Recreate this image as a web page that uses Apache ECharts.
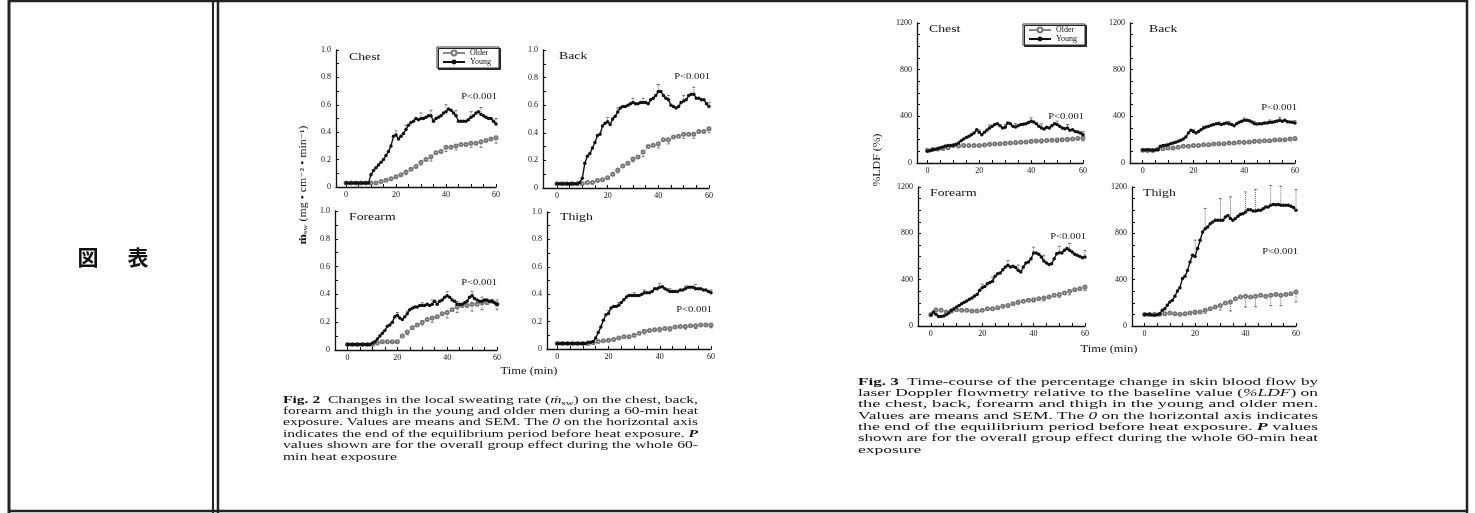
<!DOCTYPE html>
<html>
<head>
<meta charset="utf-8">
<title>Local sweating rate and skin blood flow</title>
<script src="https://cdn.jsdelivr.net/npm/echarts@6.0.0/dist/echarts.min.js"></script>
<style>
  html, body { margin: 0; padding: 0; background: #fff; }
  #chart { width: 1475px; height: 513px; }
</style>
</head>
<body>
<div id="chart"></div>
<script>
// time in minutes (young: every min, older: every 2 min)
const minutes = [0,1,2,3,4,5,6,7,8,9,10,11,12,13,14,15,16,17,18,19,20,21,22,23,24,25,26,27,28,29,30,
  31,32,33,34,35,36,37,38,39,40,41,42,43,44,45,46,47,48,49,50,51,52,53,54,55,56,57,58,59,60];
const minutesEven = [0,2,4,6,8,10,12,14,16,18,20,22,24,26,28,30,32,34,36,38,40,42,44,46,48,50,52,54,56,58,60];
const semTimes = [20,24,30,34,40,44,50,54,60];

// tick labels / tick marks
const timeTicks = [0,20,40,60];
const timeMinor = [0,5,10,15,20,25,30,35,40,45,50,55,60];
const sweatTicks = [0,0.2,0.4,0.6,0.8,1.0];
const sweatMinor = [0,0.1,0.2,0.3,0.4,0.5,0.6,0.7,0.8,0.9,1.0];
const ldfTicks = [0,400,800,1200];
const ldfMinor = [0,100,200,300,400,500,600,700,800,900,1000,1100,1200];

// Fig. 2 local sweating rate (mg/cm2/min)
const sweatChestYoung = [
  0.03,0.03,0.03,0.03,0.03,0.03,0.03,0.03,0.03,0.03,
  0.09,0.12,0.14,0.16,0.18,0.20,0.23,0.26,0.30,0.37,
  0.38,0.35,0.37,0.39,0.42,0.45,0.47,0.48,0.50,0.49,
  0.50,0.50,0.51,0.52,0.52,0.48,0.50,0.51,0.52,0.54,
  0.55,0.57,0.56,0.54,0.52,0.48,0.48,0.48,0.48,0.49,
  0.51,0.52,0.54,0.55,0.53,0.52,0.51,0.50,0.50,0.48,
  0.46];
const sweatChestOlder = [0.03,0.03,0.03,0.03,0.03,0.03,0.03,0.04,0.05,0.06,0.075,0.09,0.11,0.13,0.15,0.18,
  0.20,0.22,0.25,0.26,0.29,0.29,0.30,0.31,0.31,0.32,0.32,0.33,0.34,0.35,0.36];
const sweatBackYoung = [
  0.03,0.03,0.03,0.03,0.03,0.03,0.03,0.03,0.03,0.04,
  0.07,0.18,0.23,0.25,0.29,0.33,0.38,0.39,0.45,0.47,
  0.48,0.46,0.50,0.52,0.55,0.58,0.59,0.59,0.60,0.61,
  0.62,0.61,0.61,0.62,0.62,0.62,0.61,0.64,0.65,0.67,
  0.70,0.70,0.67,0.65,0.64,0.60,0.59,0.58,0.59,0.62,
  0.63,0.64,0.67,0.68,0.68,0.65,0.65,0.64,0.64,0.61,
  0.59];
const sweatBackOlder = [0.03,0.03,0.03,0.03,0.03,0.03,0.04,0.04,0.055,0.06,0.075,0.10,0.13,0.16,0.18,0.21,
  0.225,0.26,0.30,0.31,0.32,0.35,0.35,0.37,0.375,0.39,0.39,0.39,0.41,0.41,0.43];
const sweatForearmYoung = [
  0.04,0.04,0.04,0.04,0.04,0.04,0.04,0.04,0.04,0.04,
  0.05,0.06,0.08,0.10,0.12,0.14,0.17,0.18,0.20,0.24,
  0.25,0.23,0.22,0.24,0.26,0.29,0.30,0.31,0.31,0.32,
  0.32,0.32,0.33,0.32,0.33,0.35,0.33,0.35,0.36,0.38,
  0.39,0.38,0.36,0.35,0.33,0.33,0.33,0.34,0.35,0.38,
  0.39,0.37,0.36,0.35,0.35,0.36,0.36,0.35,0.35,0.34,
  0.33];
const sweatForearmOlder = [0.04,0.04,0.04,0.04,0.04,0.04,0.05,0.06,0.06,0.06,0.06,0.10,0.13,0.16,0.18,0.20,
  0.22,0.23,0.24,0.26,0.27,0.29,0.31,0.32,0.32,0.33,0.33,0.34,0.34,0.35,0.33];
const sweatThighYoung = [
  0.04,0.04,0.04,0.04,0.04,0.04,0.04,0.04,0.04,0.04,
  0.04,0.04,0.05,0.05,0.055,0.08,0.12,0.16,0.21,0.25,
  0.26,0.30,0.31,0.31,0.32,0.34,0.36,0.38,0.39,0.39,
  0.39,0.39,0.39,0.40,0.41,0.41,0.41,0.42,0.44,0.44,
  0.45,0.455,0.44,0.43,0.42,0.42,0.42,0.42,0.43,0.43,
  0.44,0.45,0.45,0.45,0.44,0.44,0.44,0.43,0.43,0.42,
  0.41];
const sweatThighOlder = [0.04,0.04,0.04,0.04,0.04,0.04,0.04,0.045,0.055,0.06,0.063,0.07,0.08,0.09,0.09,0.10,
  0.115,0.13,0.135,0.14,0.145,0.15,0.15,0.16,0.165,0.165,0.17,0.17,0.175,0.175,0.175];

const sweatChestYoungSem = [0.03,0.03,0.04,0.04,0.05,0.04,0.04,0.05,0.04];
const sweatChestOlderSem = [0.01,0.02,0.02,0.03,0.03,0.03,0.03,0.04,0.04];
const sweatBackYoungSem = [0.03,0.03,0.03,0.03,0.05,0.03,0.04,0.05,0.03];
const sweatBackOlderSem = [0.01,0.02,0.02,0.03,0.03,0.03,0.03,0.03,0.03];
const sweatForearmYoungSem = [0.02,0.02,0.02,0.03,0.03,0.02,0.03,0.03,0.03];
const sweatForearmOlderSem = [0.01,0.02,0.02,0.03,0.04,0.04,0.05,0.05,0.04];
const sweatThighYoungSem = [0.02,0.02,0.02,0.02,0.03,0.02,0.02,0.03,0.02];
const sweatThighOlderSem = [0.01,0.01,0.01,0.02,0.02,0.02,0.02,0.02,0.02];

// Fig. 3 skin blood flow (%LDF)
const ldfChestYoung = [
  100,105,114,118,123,130,137,145,151,150,
  151,160,171,190,206,218,229,243,257,286,
  263,243,263,282,300,314,329,337,320,300,
  306,343,337,314,309,320,329,332,337,347,
  357,351,337,314,300,291,306,300,320,337,
  329,314,300,294,300,280,286,271,266,257,
  243];
const ldfChestOlder = [110,115,120,125,130,149,145,150,151,150,151,155,160,162,166,170,
  171,175,177,180,186,188,191,193,194,197,200,203,206,210,214];
const ldfBackYoung = [
  112,112,114,111,109,112,114,143,149,152,
  157,164,171,178,186,196,206,223,257,280,
  271,257,271,286,300,309,314,323,329,337,
  337,329,337,343,337,329,320,337,349,357,
  366,366,363,351,337,334,337,337,343,343,
  349,349,354,360,366,357,366,354,351,349,
  343];
const ldfBackOlder = [110,108,108,120,123,129,129,134,143,143,149,151,157,157,163,166,
  166,171,171,177,177,180,186,186,191,191,197,200,200,206,209];
const ldfForearmYoung = [
  92,121,101,83,83,86,98,112,135,150,
  164,178,193,205,216,230,242,258,273,308,
  331,342,365,375,386,429,452,457,486,509,
  524,509,515,504,481,466,509,544,553,581,
  630,630,619,596,561,544,532,538,581,624,
  633,630,653,668,653,639,619,610,601,590,
  596];
const ldfForearmOlder = [100,140,135,121,130,141,135,135,129,129,135,150,150,158,170,178,
  193,207,213,222,227,236,242,250,265,273,285,299,314,322,337];
const ldfThighYoung = [
  100,100,101,96,92,98,106,135,150,180,
  207,222,256,302,331,409,429,480,553,610,
  601,668,740,812,840,855,883,898,912,912,
  912,912,941,955,927,912,927,947,964,970,
  984,1004,1004,993,993,999,999,1013,1027,1027,
  1042,1050,1047,1050,1042,1042,1042,1042,1033,1022,
  999];
const ldfThighOlder = [100,100,101,101,106,112,106,101,106,112,121,121,135,150,164,178,
  199,207,236,250,256,250,256,265,256,265,273,265,273,279,294];

const ldfChestYoungSem = [20,25,25,30,30,35,30,30,25];
const ldfChestOlderSem = [10,10,15,15,15,20,20,20,25];
const ldfBackYoungSem = [15,15,15,20,20,20,20,25,20];
const ldfBackOlderSem = [10,10,10,10,15,15,15,15,15];
const ldfForearmYoungSem = [30,35,40,45,50,50,55,60,55];
const ldfForearmOlderSem = [10,15,15,20,20,25,25,30,30];
const ldfThighYoungSem = [140,175,188,188,173,187,172,164,178];
const ldfThighOlderSem = [20,25,40,77,92,90,90,90,87];

const panels = [
  { title: 'Chest', kind: 'sweat', young: sweatChestYoung, older: sweatChestOlder, youngSem: sweatChestYoungSem, olderSem: sweatChestOlderSem },
  { title: 'Back', kind: 'sweat', young: sweatBackYoung, older: sweatBackOlder, youngSem: sweatBackYoungSem, olderSem: sweatBackOlderSem },
  { title: 'Forearm', kind: 'sweat', young: sweatForearmYoung, older: sweatForearmOlder, youngSem: sweatForearmYoungSem, olderSem: sweatForearmOlderSem },
  { title: 'Thigh', kind: 'sweat', young: sweatThighYoung, older: sweatThighOlder, youngSem: sweatThighYoungSem, olderSem: sweatThighOlderSem },
  { title: 'Chest', kind: 'ldf', young: ldfChestYoung, older: ldfChestOlder, youngSem: ldfChestYoungSem, olderSem: ldfChestOlderSem },
  { title: 'Back', kind: 'ldf', young: ldfBackYoung, older: ldfBackOlder, youngSem: ldfBackYoungSem, olderSem: ldfBackOlderSem },
  { title: 'Forearm', kind: 'ldf', young: ldfForearmYoung, older: ldfForearmOlder, youngSem: ldfForearmYoungSem, olderSem: ldfForearmOlderSem },
  { title: 'Thigh', kind: 'ldf', young: ldfThighYoung, older: ldfThighOlder, youngSem: ldfThighYoungSem, olderSem: ldfThighOlderSem }
];

// layout: [left, top, width, height] of each plot area
const boxes = [[336,50,160,137],[543,50,166,138],[335,211,162,139],[547,212,164,137],
               [917,23,166,140],[1130,23,165,140],[918,187,167,139],[1132,187,164,139]];
const xMins = [-4,-5.5,-5,-4,-4,-5,-5,-5];
const titlePos = [[349,57],[559,56],[349,217],[560,217],[929,29],[1149,29],[930,193],[1143,193]];
const pPos = [[497,97],[710,77],[497,283],[712,310],[1084,117],[1297,108],[1086,237],[1298,252]];

const SERIF = '"Liberation Serif", "DejaVu Serif", serif';
const INK = '#111';
const WIDE = 1.25;

function txt(x, y, text, size, align, extra) {
  return Object.assign({
    type: 'text', x: x, y: y, silent: true,
    style: { text: text, fill: INK, fontSize: size, fontFamily: SERIF,
      align: align || 'left', verticalAlign: 'middle', textAlign: align || 'left', textVerticalAlign: 'middle' }
  }, extra || {});
}

function errorBar(params, api) {
  const x = api.value(0), y = api.value(1), e = api.value(2);
  const p0 = api.coord([x, y]);
  const p1 = api.coord([x, y + e]);
  return {
    type: 'group',
    children: [
      { type: 'line', shape: { x1: p0[0], y1: p0[1], x2: p1[0], y2: p1[1] }, style: { stroke: '#333', lineWidth: 0.7, lineDash: [1, 1] } },
      { type: 'line', shape: { x1: p1[0] - 1.5, y1: p1[1], x2: p1[0] + 1.5, y2: p1[1] }, style: { stroke: '#333', lineWidth: 0.7 } }
    ]
  };
}

const grids = [], xAxes = [], yAxes = [], series = [], graphics = [];

panels.forEach(function (p, i) {
  const b = boxes[i];
  const sweat = p.kind === 'sweat';
  grids.push({ left: b[0], top: b[1], width: b[2], height: b[3], containLabel: false, outerBoundsMode: 'none' });
  xAxes.push({
    type: 'value', gridIndex: i, min: xMins[i], max: 60,
    axisLine: { show: true, onZero: false, lineStyle: { color: INK, width: 1.3 } },
    axisTick: { show: true, inside: true, length: 3, customValues: timeMinor, lineStyle: { color: INK, width: 1 } },
    axisLabel: { show: true, customValues: timeTicks, fontSize: 8, fontFamily: SERIF, color: INK, margin: 4 },
    splitLine: { show: false }
  });
  yAxes.push({
    type: 'value', gridIndex: i, min: 0, max: sweat ? 1 : 1200,
    axisLine: { show: true, onZero: false, lineStyle: { color: INK, width: 1.3 } },
    axisTick: { show: true, inside: true, length: 3, customValues: sweat ? sweatMinor : ldfMinor, lineStyle: { color: INK, width: 1 } },
    axisLabel: {
      show: true, customValues: sweat ? sweatTicks : ldfTicks, fontSize: 8, fontFamily: SERIF, color: INK, margin: 5,
      formatter: function (v) { return sweat ? (v === 0 ? '0' : v.toFixed(1)) : String(v); }
    },
    splitLine: { show: false }
  });

  series.push({
    type: 'custom', name: 'semYoung' + i, xAxisIndex: i, yAxisIndex: i, silent: true, z: 2,
    renderItem: errorBar,
    data: semTimes.map(function (t, k) { return [t, p.young[minutes.indexOf(t)], p.youngSem[k]]; })
  });
  series.push({
    type: 'custom', name: 'semOlder' + i, xAxisIndex: i, yAxisIndex: i, silent: true, z: 2,
    renderItem: errorBar,
    data: semTimes.map(function (t, k) { return [t, p.older[minutesEven.indexOf(t)], -p.olderSem[k]]; })
  });
  series.push({
    type: 'line', name: 'Older', xAxisIndex: i, yAxisIndex: i, silent: true, z: 3,
    data: minutesEven.map(function (t, k) { return [t, p.older[k]]; }),
    symbol: 'emptyCircle', symbolSize: 3, showSymbol: true,
    lineStyle: { color: '#888', width: 0.6 },
    itemStyle: { color: '#777', borderWidth: 0.7 }
  });
  series.push({
    type: 'line', name: 'Young', xAxisIndex: i, yAxisIndex: i, silent: true, z: 4,
    data: minutes.map(function (t, k) { return [t, p.young[k]]; }),
    symbol: 'circle', symbolSize: 3.5, showSymbol: true,
    lineStyle: { color: INK, width: 1.4 },
    itemStyle: { color: INK }
  });

  graphics.push(txt(titlePos[i][0], titlePos[i][1], p.title, 11, 'left', { scaleX: WIDE }));
  graphics.push(txt(pPos[i][0], pPos[i][1], 'P<0.001', 8.5, 'right', { scaleX: WIDE }));
});

// frame of the table
const frame = [
  [9, 0, 9, 513, 3], [1467, 0, 1467, 513, 2.5], [8, 1, 1468, 1, 2.5], [8, 511, 1468, 511, 2.5],
  [213, 0, 213, 513, 2], [218, 0, 218, 513, 2.5]
];
frame.forEach(function (f) {
  graphics.push({ type: 'line', silent: true, shape: { x1: f[0], y1: f[1], x2: f[2], y2: f[3] }, style: { stroke: '#222', lineWidth: f[4] } });
});
graphics.push(txt(88, 257, '図', 21, 'center', { style: { text: '図', fill: INK, fontSize: 21, fontWeight: 'bold', fontFamily: '"Noto Sans CJK JP", sans-serif', align: 'center', verticalAlign: 'middle', textAlign: 'center', textVerticalAlign: 'middle' } }));
graphics.push(txt(138, 257, '表', 21, 'center', { style: { text: '表', fill: INK, fontSize: 21, fontWeight: 'bold', fontFamily: '"Noto Sans CJK JP", sans-serif', align: 'center', verticalAlign: 'middle', textAlign: 'center', textVerticalAlign: 'middle' } }));

// axis titles
graphics.push(txt(529, 371, 'Time (min)', 10, 'center', { scaleX: WIDE }));
graphics.push(txt(1109, 349, 'Time (min)', 10, 'center', { scaleX: WIDE }));
graphics.push({
  type: 'text', x: 303, y: 185, rotation: Math.PI / 2, scaleX: WIDE, silent: true,
  style: {
    text: '{m|ṁ}{s|sw}{n| (mg • cm⁻² • min⁻¹)}',
    align: 'center', verticalAlign: 'middle', textAlign: 'center', textVerticalAlign: 'middle',
    rich: {
      m: { fontSize: 10, fontFamily: SERIF, fill: INK, fontWeight: 'bold' },
      s: { fontSize: 7, fontFamily: SERIF, fill: INK, verticalAlign: 'bottom', padding: [4, 0, 0, 0] },
      n: { fontSize: 9.5, fontFamily: SERIF, fill: INK }
    }
  }
});
graphics.push(txt(877, 160, '%LDF (%)', 9.5, 'center', { rotation: Math.PI / 2, scaleX: WIDE }));

// captions
const capFig2 = [
  [['Fig. 2', 'b'], ['  Changes in the local sweating rate (', 'n'], ['ṁ', 'i'], ['sw', 'sub'], [') on the chest, back,', 'n']],
  [['forearm and thigh in the young and older men during a 60-min heat', 'n']],
  [['exposure. Values are means and SEM. The ', 'n'], ['0', 'i'], [' on the horizontal axis', 'n']],
  [['indicates the end of the equilibrium period before heat exposure. ', 'n'], ['P', 'bi']],
  [['values shown are for the overall group effect during the whole 60-', 'n']],
  [['min heat exposure', 'n']]
];
const capFig3 = [
  [['Fig. 3', 'b'], ['  Time-course of the percentage change in skin blood flow by', 'n']],
  [['laser Doppler flowmetry relative to the baseline value (', 'n'], ['%LDF', 'i'], [') on', 'n']],
  [['the chest, back, forearm and thigh in the young and older men.', 'n']],
  [['Values are means and SEM. The ', 'n'], ['0', 'i'], [' on the horizontal axis indicates', 'n']],
  [['the end of the equilibrium period before heat exposure. ', 'n'], ['P', 'bi'], [' values', 'n']],
  [['shown are for the overall group effect during the whole 60-min heat', 'n']],
  [['exposure', 'n']]
];

const ctx = document.createElement('canvas').getContext('2d');
function segStyle(kind, size) {
  return {
    fontStyle: (kind === 'i' || kind === 'bi') ? 'italic' : 'normal',
    fontWeight: (kind === 'b' || kind === 'bi') ? 'bold' : 'normal',
    fontSize: kind === 'sub' ? Math.round(size * 0.7) : size
  };
}
function segWidth(seg, size) {
  const s = segStyle(seg[1], size);
  ctx.font = s.fontStyle + ' ' + s.fontWeight + ' ' + s.fontSize + 'px ' + SERIF;
  return ctx.measureText(seg[0]).width;
}
function caption(lines, x0, y0, lineH, width, size) {
  const nat = lines.map(function (l) { return l.reduce(function (w, s) { return w + segWidth(s, size); }, 0); });
  const full = nat.slice(0, -1).map(function (w) { return width / w; });
  const avg = full.reduce(function (a, b) { return a + b; }, 0) / full.length;
  return lines.map(function (l, i) {
    let off = 0;
    const children = l.map(function (s) {
      const st = segStyle(s[1], size);
      const el = {
        type: 'text', x: off, y: s[1] === 'sub' ? 3 : 0, silent: true,
        style: { text: s[0], fill: INK, fontFamily: SERIF, fontSize: st.fontSize, fontStyle: st.fontStyle, fontWeight: st.fontWeight,
          verticalAlign: 'middle', textVerticalAlign: 'middle' }
      };
      off += segWidth(s, size);
      return el;
    });
    return { type: 'group', x: x0, y: y0 + i * lineH, scaleX: i < lines.length - 1 ? full[i] : avg, children: children };
  });
}
caption(capFig2, 283, 400, 11.4, 415, 10).forEach(function (g) { graphics.push(g); });
caption(capFig3, 858, 382, 11.35, 460, 10).forEach(function (g) { graphics.push(g); });

const legendBase = {
  data: ['Older', 'Young'], orient: 'vertical', selectedMode: false,
  itemWidth: 22, itemHeight: 6, itemGap: 1, padding: [2, 8, 2, 5],
  textStyle: { fontSize: 8, fontFamily: SERIF, color: INK },
  borderColor: '#333', borderWidth: 1, backgroundColor: '#fff',
  shadowColor: '#222', shadowBlur: 0.3, shadowOffsetX: 1.5, shadowOffsetY: 1.5
};

const chart = echarts.init(document.getElementById('chart'), null, { renderer: 'canvas' });
chart.setOption({
  animation: false,
  backgroundColor: '#fff',
  grid: grids,
  xAxis: xAxes,
  yAxis: yAxes,
  legend: [
    Object.assign({}, legendBase, { left: 437, top: 47 }),
    Object.assign({}, legendBase, { left: 1023, top: 24 })
  ],
  series: series,
  graphic: graphics
});
</script>
</body>
</html>
